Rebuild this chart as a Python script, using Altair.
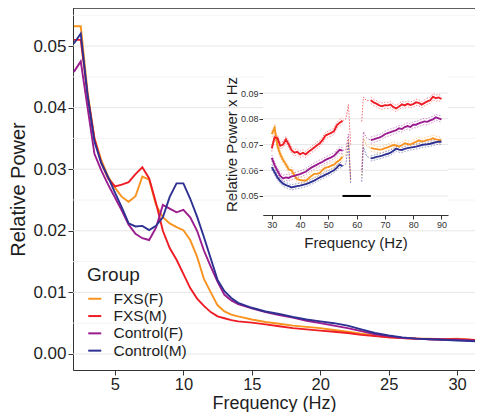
import altair as alt
import pandas as pd

groups = ["FXS(F)", "FXS(M)", "Control(F)", "Control(M)"]
colors = ["#F7931E", "#EE1C25", "#9B1C8E", "#2E3192"]

# ---------------- main spectrum (2-32 Hz) ----------------
freq_main = [2.0, 2.5, 3.0, 3.5, 4.0, 4.5, 5.0, 5.5, 6.0, 6.5, 7.0, 7.5, 8.0, 8.5,
             9.0, 9.5, 10.0, 10.5, 11.0, 11.5, 12.0, 12.5, 13.0, 13.5, 14.0,
             15, 16, 17, 18, 19, 20, 21, 22, 23, 24, 25, 26, 27, 28, 29, 30, 31, 32]
main_fxs_f = [0.0532, 0.0532, 0.0425, 0.0350, 0.0315, 0.0288, 0.0270, 0.0255, 0.0247, 0.0256,
              0.0288, 0.0283, 0.0242, 0.0222, 0.0212, 0.0206, 0.0201, 0.0185, 0.0158, 0.0122,
              0.0100, 0.0079, 0.0069, 0.0064, 0.0061,
              0.0056, 0.0052, 0.0049, 0.0046, 0.0044, 0.0042, 0.0039, 0.0036, 0.0033, 0.0030,
              0.0027, 0.0026, 0.0025, 0.0025, 0.0024, 0.0025, 0.0023, 0.0022]
main_fxs_m = [0.0510, 0.0510, 0.0420, 0.0350, 0.0310, 0.0285, 0.0272, 0.0275, 0.0279, 0.0292,
              0.0303, 0.0285, 0.0245, 0.0200, 0.0172, 0.0153, 0.0130, 0.0107, 0.0090, 0.0078,
              0.0068, 0.0061, 0.0058, 0.0055, 0.0053,
              0.0051, 0.0048, 0.0045, 0.0042, 0.0040, 0.0038, 0.0036, 0.0034, 0.0031, 0.0029,
              0.0027, 0.0026, 0.0025, 0.0024, 0.0024, 0.0024, 0.0023, 0.0022]
main_ctl_f = [0.0458, 0.0475, 0.0400, 0.0325, 0.0298, 0.0275, 0.0254, 0.0233, 0.0210, 0.0195,
              0.0188, 0.0185, 0.0205, 0.0242, 0.0236, 0.0230, 0.0234, 0.0222, 0.0200, 0.0168,
              0.0142, 0.0117, 0.0096, 0.0087, 0.0081,
              0.0074, 0.0068, 0.0063, 0.0059, 0.0054, 0.0050, 0.0046, 0.0042, 0.0037, 0.0032,
              0.0029, 0.0026, 0.0025, 0.0024, 0.0023, 0.0023, 0.0022, 0.0021]
main_ctl_m = [0.0504, 0.0520, 0.0420, 0.0345, 0.0310, 0.0287, 0.0262, 0.0238, 0.0212, 0.0207,
              0.0208, 0.0201, 0.0208, 0.0222, 0.0255, 0.0277, 0.0277, 0.0252, 0.0223, 0.0190,
              0.0155, 0.0120, 0.0102, 0.0091, 0.0083,
              0.0075, 0.0069, 0.0065, 0.0060, 0.0056, 0.0053, 0.0050, 0.0046, 0.0040, 0.0034,
              0.0030, 0.0027, 0.0025, 0.0024, 0.0023, 0.0022, 0.0021, 0.0020]

main_x_ticks = [5, 10, 15, 20, 25, 30]
main_y_ticks = [0.00, 0.01, 0.02, 0.03, 0.04, 0.05]
main_y_minor = [0.005, 0.015, 0.025, 0.035, 0.045, 0.055]
main_x_domain = [1.934, 31.31]
main_y_domain = [-0.0026, 0.05617]

# ---------------- inset (30-90 Hz, relative power x Hz) ----------------
freq_in_left = list(range(30, 56))
freq_in_right = list(range(65, 91))
in_fxs_f_left = [0.0740, 0.0765, 0.0695, 0.0662, 0.0640, 0.0622, 0.0603, 0.0600, 0.0580, 0.0565,
                 0.0562, 0.0560, 0.0560, 0.0568, 0.0578, 0.0586, 0.0586, 0.0590, 0.0602, 0.0610,
                 0.0612, 0.0618, 0.0622, 0.0632, 0.0640, 0.0652]
in_fxs_m_left = [0.0685, 0.0728, 0.0725, 0.0695, 0.0700, 0.0720, 0.0700, 0.0678, 0.0668, 0.0672,
                 0.0662, 0.0668, 0.0662, 0.0672, 0.0680, 0.0688, 0.0697, 0.0705, 0.0718, 0.0735,
                 0.0740, 0.0745, 0.0752, 0.0775, 0.0785, 0.0792]
in_ctl_f_left = [0.0648, 0.0620, 0.0598, 0.0578, 0.0568, 0.0572, 0.0570, 0.0576, 0.0578, 0.0582,
                 0.0585, 0.0590, 0.0594, 0.0603, 0.0610, 0.0616, 0.0622, 0.0628, 0.0633, 0.0640,
                 0.0645, 0.0650, 0.0656, 0.0668, 0.0679, 0.0676]
in_ctl_m_left = [0.0612, 0.0592, 0.0572, 0.0558, 0.0548, 0.0542, 0.0538, 0.0533, 0.0536, 0.0538,
                 0.0540, 0.0543, 0.0546, 0.0550, 0.0555, 0.0560, 0.0566, 0.0572, 0.0577, 0.0583,
                 0.0588, 0.0594, 0.0600, 0.0610, 0.0622, 0.0616]
in_fxs_f_right = [0.0687, 0.0684, 0.0682, 0.0680, 0.0681, 0.0686, 0.0689, 0.0694, 0.0698, 0.0696,
                  0.0692, 0.0697, 0.0705, 0.0702, 0.0700, 0.0705, 0.0710, 0.0716, 0.0712, 0.0714,
                  0.0718, 0.0720, 0.0724, 0.0720, 0.0718, 0.0716]
in_fxs_m_right = [0.0872, 0.0864, 0.0859, 0.0852, 0.0849, 0.0853, 0.0852, 0.0855, 0.0845, 0.0840,
                  0.0848, 0.0856, 0.0852, 0.0858, 0.0854, 0.0857, 0.0864, 0.0862, 0.0855, 0.0862,
                  0.0868, 0.0872, 0.0886, 0.0880, 0.0883, 0.0877]
in_ctl_f_right = [0.0717, 0.0720, 0.0724, 0.0727, 0.0732, 0.0740, 0.0744, 0.0748, 0.0752, 0.0756,
                  0.0763, 0.0760, 0.0768, 0.0772, 0.0768, 0.0777, 0.0777, 0.0782, 0.0786, 0.0790,
                  0.0788, 0.0794, 0.0798, 0.0806, 0.0802, 0.0798]
in_ctl_m_right = [0.0646, 0.0648, 0.0652, 0.0654, 0.0657, 0.0661, 0.0664, 0.0668, 0.0676, 0.0684,
                  0.0680, 0.0679, 0.0683, 0.0686, 0.0688, 0.0690, 0.0692, 0.0695, 0.0698, 0.0700,
                  0.0701, 0.0703, 0.0706, 0.0709, 0.0711, 0.0711]
in_ci_half = [0.0012, 0.0012, 0.0012, 0.0010]

# line-noise artefact (dotted) around the notch
gap_freq_left = [55, 56.2, 57.1, 57.9]
gap_freq_right = [61.8, 62.4, 63.5, 65]
gap_fxs_f = [[0.0652, 0.0660, 0.0720, 0.0560], [0.0580, 0.0725, 0.0695, 0.0687]]
gap_fxs_m = [[0.0792, 0.0800, 0.0855, 0.0700], [0.0790, 0.0885, 0.0870, 0.0872]]
gap_ctl_f = [[0.0676, 0.0680, 0.0740, 0.0565], [0.0600, 0.0750, 0.0725, 0.0717]]
gap_ctl_m = [[0.0616, 0.0625, 0.0705, 0.0545], [0.0556, 0.0690, 0.0655, 0.0646]]

notch_bar_x = [55, 65]
notch_bar_y = 0.05

in_x_ticks = [30, 40, 50, 60, 70, 80, 90]
in_y_ticks = [0.05, 0.06, 0.07, 0.08, 0.09]
in_x_domain = [26.9, 92.3]
in_y_domain = [0.0426, 0.0978]

FONT = "Liberation Sans"
TXT = "#1e1e1e"

# ---------------- data frames ----------------
main_rows = []
for g, vals in zip(groups, [main_fxs_f, main_fxs_m, main_ctl_f, main_ctl_m]):
    for f, v in zip(freq_main, vals):
        main_rows.append({"group": g, "freq": f, "value": v})
main_df = pd.DataFrame(main_rows)

in_rows = []
lefts = [in_fxs_f_left, in_fxs_m_left, in_ctl_f_left, in_ctl_m_left]
rights = [in_fxs_f_right, in_fxs_m_right, in_ctl_f_right, in_ctl_m_right]
for g, lv, rv, hw in zip(groups, lefts, rights, in_ci_half):
    for f, v in zip(freq_in_left, lv):
        in_rows.append({"group": g, "seg": g + "L", "freq": f, "value": v, "lo": v - hw, "hi": v + hw})
    for f, v in zip(freq_in_right, rv):
        in_rows.append({"group": g, "seg": g + "R", "freq": f, "value": v, "lo": v - hw, "hi": v + hw})
in_df = pd.DataFrame(in_rows)

gap_rows = []
for g, gv in zip(groups, [gap_fxs_f, gap_fxs_m, gap_ctl_f, gap_ctl_m]):
    for f, v in zip(gap_freq_left, gv[0]):
        gap_rows.append({"group": g, "seg": g + "gL", "freq": f, "value": v})
    for f, v in zip(gap_freq_right, gv[1]):
        gap_rows.append({"group": g, "seg": g + "gR", "freq": f, "value": v})
gap_df = pd.DataFrame(gap_rows)

bar_df = pd.DataFrame({"x": [notch_bar_x[0]], "x2": [notch_bar_x[1]], "y": [notch_bar_y]})

# ---------------- main scales / axes ----------------
mx_scale = alt.Scale(domain=main_x_domain, nice=False, zero=False)
my_scale = alt.Scale(domain=main_y_domain, nice=False, zero=False)
mx_axis = alt.Axis(values=main_x_ticks, title="Frequency (Hz)", grid=False, orient="bottom",
                   labelFontSize=16.5, titleFontSize=18, titleFontWeight="normal", tickSize=5,
                   labelPadding=1, titlePadding=2, domainColor="#333", tickColor="#333",
                   labelColor=TXT, titleColor=TXT, labelFont=FONT, titleFont=FONT)
my_axis = alt.Axis(values=main_y_ticks, format=".2f", title="Relative Power", grid=False,
                   orient="left", labelFontSize=17, titleFontSize=20, titleFontWeight="normal",
                   tickSize=5, labelPadding=2, titlePadding=4, domainColor="#333",
                   tickColor="#333", labelColor=TXT, titleColor=TXT, labelFont=FONT,
                   titleFont=FONT)

color_main = alt.Color("group:N", scale=alt.Scale(domain=groups, range=colors),
                       legend=alt.Legend(title="Group", orient="none", legendX=14, legendY=258,
                                         titleFontSize=19, titleFontWeight="normal",
                                         titleColor=TXT, titleFont=FONT, labelFont=FONT,
                                         labelFontSize=15.5, labelColor=TXT,
                                         symbolType="stroke", symbolSize=169,
                                         symbolStrokeWidth=2, labelOffset=11, rowPadding=0.3,
                                         titlePadding=6))
color_plain = alt.Color("group:N", scale=alt.Scale(domain=groups, range=colors), legend=None)

grid_major_df = pd.DataFrame({"v": main_y_ticks})
grid_minor_df = pd.DataFrame({"v": main_y_minor})

grid_minor = alt.Chart(grid_minor_df).mark_rule(color="#f1f1f1", strokeWidth=0.8).encode(
    y=alt.Y("v:Q", scale=my_scale, axis=my_axis),
    x=alt.X(datum=main_x_domain[0], scale=mx_scale, axis=mx_axis),
    x2=alt.X2(datum=main_x_domain[1]),
)
grid_major = alt.Chart(grid_major_df).mark_rule(color="#e6e6e6", strokeWidth=1).encode(
    y=alt.Y("v:Q", scale=my_scale, axis=my_axis),
    x=alt.X(datum=main_x_domain[0], scale=mx_scale, axis=mx_axis),
    x2=alt.X2(datum=main_x_domain[1]),
)
top_border = alt.Chart(pd.DataFrame({"v": [main_y_domain[1]]})).mark_rule(
    color="#333", strokeWidth=1.5).encode(
    y=alt.Y("v:Q", scale=my_scale, axis=my_axis),
    x=alt.X(datum=main_x_domain[0], scale=mx_scale, axis=mx_axis),
    x2=alt.X2(datum=main_x_domain[1]),
)
main_lines = alt.Chart(main_df).mark_line(strokeWidth=1.9, clip=True).encode(
    x=alt.X("freq:Q", scale=mx_scale, axis=mx_axis),
    y=alt.Y("value:Q", scale=my_scale, axis=my_axis),
    color=color_main,
    order=alt.Order("freq:Q"),
)
main_layer = alt.layer(grid_minor, grid_major, top_border, main_lines)

# ---------------- inset scales / axes ----------------
ix_scale = alt.Scale(domain=in_x_domain, range=[190, 375], nice=False, zero=False)
iy_scale = alt.Scale(domain=in_y_domain, range=[207, 65], nice=False, zero=False)
ix_axis = alt.Axis(values=in_x_ticks, title="Frequency (Hz)", grid=False, orient="bottom",
                   offset=-155, labelFontSize=9, titleFontSize=15, titleFontWeight="normal",
                   tickSize=4, labelPadding=1, titlePadding=6, domainColor="#333",
                   tickColor="#333", labelColor="#333", titleColor=TXT, labelFont=FONT,
                   titleFont=FONT)
iy_axis = alt.Axis(values=in_y_ticks, format=".2f", title="Relative Power x Hz", grid=False,
                   orient="left", offset=-190, labelFontSize=9, titleFontSize=15,
                   titleFontWeight="normal", tickSize=4, labelPadding=1, titlePadding=1,
                   domainColor="#333", tickColor="#333", labelColor="#333", titleColor=TXT,
                   labelFont=FONT, titleFont=FONT)

bg = alt.Chart(pd.DataFrame({"a": [0]})).mark_rect(fill="white").encode(
    x=alt.X(datum=in_x_domain[0], scale=ix_scale, axis=ix_axis),
    x2=alt.X2(datum=in_x_domain[1]),
    y=alt.Y(datum=in_y_domain[0], scale=iy_scale, axis=iy_axis),
    y2=alt.Y2(datum=in_y_domain[1]),
)
in_grid = alt.Chart(pd.DataFrame({"v": in_y_ticks})).mark_rule(color="#e8e8e8", strokeWidth=1).encode(
    y=alt.Y("v:Q", scale=iy_scale, axis=iy_axis),
    x=alt.X(datum=in_x_domain[0], scale=ix_scale, axis=ix_axis),
    x2=alt.X2(datum=in_x_domain[1]),
)
ci_lo = alt.Chart(in_df).mark_line(strokeWidth=0.8, strokeDash=[1.5, 1.5], opacity=0.6).encode(
    x=alt.X("freq:Q", scale=ix_scale, axis=ix_axis),
    y=alt.Y("lo:Q", scale=iy_scale, axis=iy_axis),
    color=color_plain, detail="seg:N", order=alt.Order("freq:Q"),
)
ci_hi = alt.Chart(in_df).mark_line(strokeWidth=0.8, strokeDash=[1.5, 1.5], opacity=0.6).encode(
    x=alt.X("freq:Q", scale=ix_scale, axis=ix_axis),
    y=alt.Y("hi:Q", scale=iy_scale, axis=iy_axis),
    color=color_plain, detail="seg:N", order=alt.Order("freq:Q"),
)
gap_lines = alt.Chart(gap_df).mark_line(strokeWidth=0.9, strokeDash=[1.5, 1.5], opacity=0.75).encode(
    x=alt.X("freq:Q", scale=ix_scale, axis=ix_axis),
    y=alt.Y("value:Q", scale=iy_scale, axis=iy_axis),
    color=color_plain, detail="seg:N", order=alt.Order("freq:Q"),
)
in_lines = alt.Chart(in_df).mark_line(strokeWidth=1.9).encode(
    x=alt.X("freq:Q", scale=ix_scale, axis=ix_axis),
    y=alt.Y("value:Q", scale=iy_scale, axis=iy_axis),
    color=color_plain, detail="seg:N", order=alt.Order("freq:Q"),
)
notch_bar = alt.Chart(bar_df).mark_rule(color="black", strokeWidth=2).encode(
    x=alt.X("x:Q", scale=ix_scale, axis=ix_axis),
    x2="x2:Q",
    y=alt.Y("y:Q", scale=iy_scale, axis=iy_axis),
)
inset_layer = alt.layer(bg, in_grid, ci_lo, ci_hi, gap_lines, in_lines, notch_bar)

chart = alt.layer(main_layer, inset_layer).resolve_scale(
    x="independent", y="independent"
).properties(
    width=402, height=362,
    autosize=alt.AutoSizeParams(type="none"),
    padding={"left": 65, "top": 0, "right": 0, "bottom": 42},
).configure_view(stroke=None).configure(font=FONT)

chart.save("out.html", embed_options={"renderer": "svg", "actions": False})
